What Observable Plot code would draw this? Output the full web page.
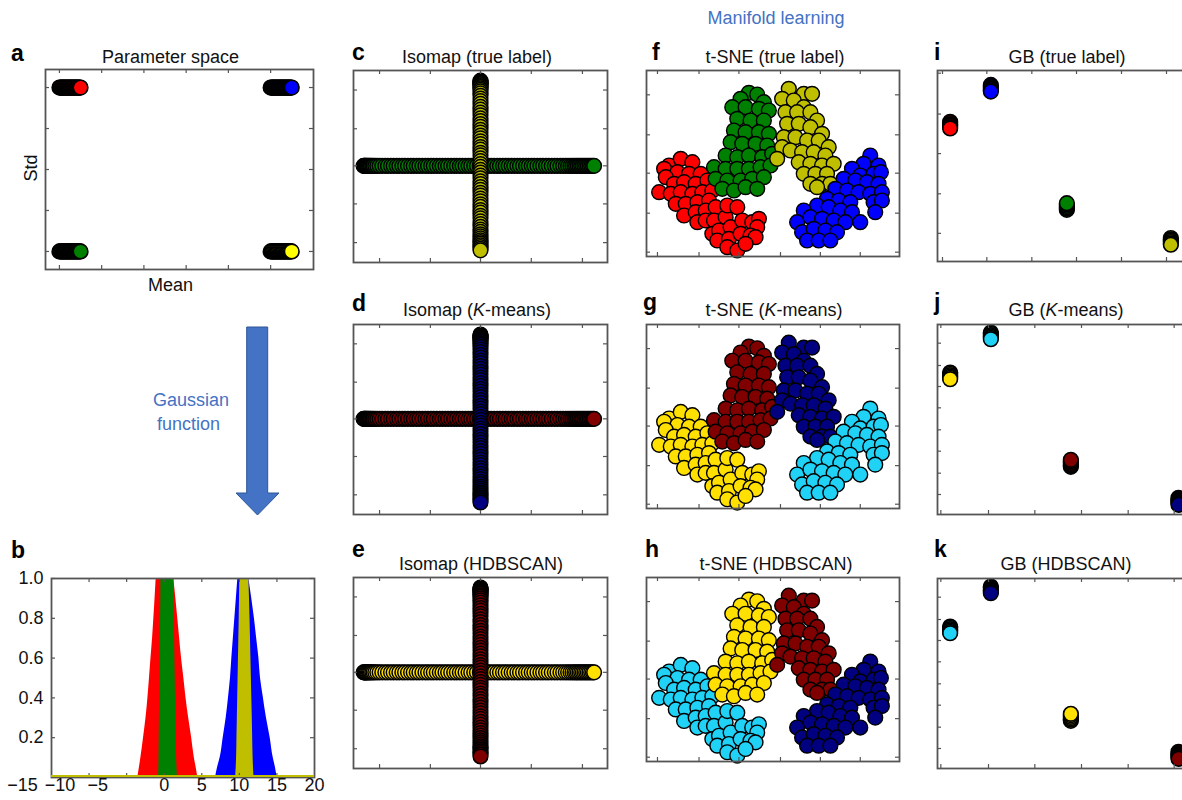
<!DOCTYPE html>
<html><head><meta charset="utf-8">
<script src="https://cdn.jsdelivr.net/npm/d3@7"></script>
<script src="https://cdn.jsdelivr.net/npm/@observablehq/plot@0.6"></script>
<style>
html,body{margin:0;padding:0;background:#fff;}
#fig{position:relative;width:1182px;height:800px;overflow:hidden;background:#fff;font-family:"Liberation Sans",Arial,Helvetica,sans-serif;}
</style></head><body><div id="fig"></div>
<script>
// ================= DATA =================
// Panel a: parameter space (mean, std)
const paramMeansLow  = [0, 0.04, 0.08, 0.12, 0.16, 0.2, 0.24, 0.28, 0.32, 0.36, 0.4, 0.44, 0.48, 0.52, 0.56, 0.6, 0.64, 0.68, 0.72, 0.76, 0.8, 0.84, 0.88, 0.92, 0.96, 1.0];
const paramMeansHigh = [10, 10.04, 10.08, 10.12, 10.16, 10.2, 10.24, 10.28, 10.32, 10.36, 10.4, 10.44, 10.48, 10.52, 10.56, 10.6, 10.64, 10.68, 10.72, 10.76, 10.8, 10.84, 10.88, 10.92, 10.96, 11.0];
const paramStdHigh = 1.2;
const paramStdLow = 0.4;
const paramXTicks = [0, 2, 4, 6, 8, 10];
const paramYTicks = [0.4, 0.6, 0.8, 1.0, 1.2];

// Panel b: Gaussian functions, outline of each coloured band read at levels
const gaussLevels = [0, 0.05, 0.1, 0.2, 0.3, 0.4, 0.5, 0.6, 0.7, 0.8, 0.9, 1.0];
const redLeft    = [-3.51, -3.3, -3.1, -2.75, -2.42, -2.17, -1.96, -1.76, -1.55, -1.38, -1.22, -1.07];
const redRight   = [4.47, 4.25, 4.0, 3.65, 3.25, 2.9, 2.61, 2.3, 2.05, 1.8, 1.55, 1.28];
const greenLeft  = [-0.75, -0.72, -0.7, -0.67, -0.64, -0.61, -0.58, -0.55, -0.52, -0.49, -0.46, -0.45];
const greenRight = [1.75, 1.7, 1.65, 1.6, 1.55, 1.5, 1.46, 1.42, 1.38, 1.34, 1.3, 1.28];
const blueLeft   = [6.83, 7.1, 7.45, 7.85, 8.25, 8.55, 8.82, 9.0, 9.2, 9.4, 9.6, 9.8];
const blueRight  = [15.03, 14.8, 14.5, 14.1, 13.6, 13.2, 12.81, 12.6, 12.3, 12.0, 11.65, 11.26];
const yellowLeft = [9.5, 9.58, 9.63, 9.68, 9.73, 9.78, 9.83, 9.88, 9.93, 9.98, 10.02, 10.06];
const yellowRight= [11.95, 11.88, 11.83, 11.77, 11.72, 11.66, 11.6, 11.54, 11.48, 11.42, 11.35, 11.26];
const gaussXLabels = [-15, -10, -5, 0, 5, 10, 15, 20];
const gaussXTicks = [-10, -5, 0, 5, 10, 15];
const gaussYTicks = [0.2, 0.4, 0.6, 0.8, 1.0];

// Isomap embedding (two bars)
const isoHorizontalY = 28.7;
const isoHorizontalX = [3.0,3.2,3.4,3.6,3.8,4.0,4.3,4.6,4.9,5.2,5.6,6.0,6.5,7.1,7.8,8.6,9.5,10.3,11.2,12.0,12.9,13.7,14.6,15.4,16.3,17.2,18.0,18.9,19.7,20.6,21.5,22.3,23.2,24.0,24.9,25.8,26.6,27.5,28.3,29.2,30.1,30.9,31.8,32.6,33.5,34.4,35.2,36.1,36.9,37.8,38.7,39.5,40.4,41.2,42.1,43.0,43.8,44.7,45.5,46.4,47.3,48.1,49.0,49.8,50.7,51.6,52.4,53.3,54.1,55.0,55.9,56.7,57.6,58.4,59.3,60.2,61.0,61.9,62.7,63.5,64.2,64.9,65.5,66.1,66.6,67.1,67.6,68.1,68.6,69.1,69.6,70.1,70.6,71.1,71.6,72.0];
const isoVerticalX = 38;
const isoVerticalY = [54.0,53.8,53.6,53.4,53.2,53.0,52.7,52.4,52.1,51.7,51.3,50.8,50.2,49.5,48.7,47.9,47.1,46.2,45.4,44.5,43.7,42.8,42.0,41.1,40.3,39.4,38.6,37.7,36.9,36.0,35.2,34.3,33.5,32.6,31.8,30.9,30.1,29.2,28.4,27.5,26.7,25.8,25.0,24.1,23.3,22.4,21.6,20.7,19.9,19.0,18.2,17.3,16.5,15.6,14.8,13.9,13.1,12.2,11.4,10.6,9.8,9.1,8.4,7.8,7.2,6.6,6.1,5.6,5.1,4.6,4.1,3.6];
const isoXTicks = [7.8, 23, 38, 53.2, 68.5];
const isoYTicks = [5.9, 17.4, 28.7, 39.7, 51.2];

// t-SNE embedding (four clusters)
const tsneCluster0 = [[11.5,32.5],[15.0,34.5],[18.5,33.5],[10.0,31.5],[14.0,30.5],[17.5,30.0],[21.0,30.0],[10.5,29.0],[13.0,27.0],[16.0,27.5],[19.5,27.0],[23.0,28.0],[8.5,24.5],[12.0,24.0],[15.0,24.5],[18.5,24.0],[21.5,24.5],[24.5,25.0],[13.5,21.0],[16.5,21.0],[20.0,21.5],[23.5,22.0],[16.0,17.5],[19.5,18.5],[22.5,19.0],[25.5,20.0],[20.0,15.5],[22.5,16.0],[25.0,16.0],[28.5,17.0],[29.0,20.5],[32.0,20.0],[24.5,12.0],[26.5,13.0],[30.0,14.0],[33.5,16.0],[36.5,15.5],[38.5,16.5],[38.0,14.0],[26.0,10.0],[29.5,10.5],[33.0,12.0],[36.0,11.5],[37.5,11.0],[29.0,8.0],[32.0,7.0],[34.5,9.0]];
const tsneCluster1 = [[35.5,54.3],[38.0,53.8],[33.0,52.5],[40.0,51.5],[30.5,50.0],[34.5,50.0],[38.5,49.5],[41.5,49.0],[32.0,46.5],[36.0,46.0],[40.0,46.0],[31.0,43.0],[34.5,42.5],[38.5,42.5],[41.5,42.0],[30.0,39.5],[33.5,39.0],[37.5,39.0],[41.0,38.5],[28.5,35.5],[32.0,35.0],[35.5,35.5],[39.5,35.0],[42.5,36.0],[25.0,32.0],[28.5,31.5],[32.0,31.5],[35.5,31.5],[39.0,32.0],[42.0,32.5],[25.5,28.5],[29.0,28.0],[33.0,28.0],[36.5,28.5],[40.0,29.0],[27.5,25.5],[31.0,25.0],[34.5,26.0],[38.0,25.5]];
const tsneCluster2 = [[47.5,55.5],[52.0,54.0],[54.5,54.0],[45.5,52.5],[49.0,52.0],[52.0,50.0],[46.5,48.5],[50.0,48.5],[54.0,48.5],[56.0,46.0],[47.0,45.0],[50.5,45.0],[54.0,44.0],[57.5,42.0],[46.0,41.0],[49.5,41.0],[53.0,40.0],[56.5,40.0],[59.5,38.0],[45.5,38.0],[44.0,34.5],[48.0,37.0],[51.5,36.5],[55.0,36.5],[58.5,35.5],[50.5,33.5],[54.0,33.0],[57.5,32.5],[61.0,33.0],[52.0,30.0],[55.5,30.0],[59.0,30.0],[54.0,27.0],[57.5,27.0],[60.0,27.0],[56.0,26.0]];
const tsneCluster3 = [[72.0,35.5],[74.5,32.5],[70.0,33.0],[66.5,31.5],[69.0,29.5],[73.0,30.0],[75.2,30.5],[64.0,28.5],[67.5,28.0],[71.0,27.5],[74.5,27.0],[61.5,25.5],[65.0,25.0],[68.5,24.5],[72.0,24.0],[75.5,24.5],[59.0,22.5],[62.5,22.0],[66.0,21.5],[73.0,21.5],[75.5,22.0],[56.0,20.5],[59.5,20.0],[63.0,19.0],[66.5,18.5],[73.5,18.5],[52.0,19.0],[50.0,15.5],[54.0,17.0],[57.5,16.5],[61.0,16.0],[64.5,15.5],[69.0,15.5],[51.5,12.5],[55.0,13.5],[58.5,13.0],[62.0,12.5],[53.0,10.0],[56.5,10.0],[60.0,10.0]];
const tsneXTicks = [8, 20.5, 32.5, 45, 57, 69];
const tsneYTicks = [6.5, 18.2, 30.2, 41.7, 53.7];

// GB embedding: four clumps (labels of clumps in cluster order)
const gbClumpLabels = [0, 3, 1, 2];
const gbTrueX = [3.8, 16.0, 38.8, 70.0];
const gbTrueStackY = [[41.7, 41.3, 40.9, 40.5, 40.1, 39.7], [52.7, 52.3, 51.9, 51.5, 51.1, 50.7], [15.4, 15.8, 16.2, 16.6, 17.0, 17.4], [7.0, 6.6, 6.2, 5.8, 5.4, 5.0]];
const gbClusterX = [3.8, 16.0, 40.0, 72.3];
const gbClusterStackY = [[42.6, 42.2, 41.8, 41.4, 41.0, 40.6], [54.6, 54.2, 53.8, 53.4, 53.0, 52.6], [14.3, 14.7, 15.1, 15.5, 16.0, 16.4], [5.0, 4.6, 4.2, 3.8, 3.4, 2.9]];
const gbTrueXTicks = [1.5, 14.8, 28.3, 41.7, 55.2, 68.7];
const gbTrueYTicks = [8.4, 20.2, 32.2, 44.0, 56.2];
const gbClusterXTicks = [1, 15.3, 29.2, 43.2, 57.2, 71];
const gbClusterYTicks = [6, 12.4, 19, 25.4, 32, 38.4, 44.7, 51.4];

// Label colours (class order: 0,1,2,3)
const trueColors    = ["#ff0000", "#008000", "#bfbf00", "#0000ff"];
const kmeansColors  = ["#ffe000", "#800000", "#000080", "#20d2f6"];
const hdbscanColors = ["#20d2f6", "#ffe000", "#800000", "#000080"];
const paramColors   = ["#ff0000", "#008000", "#0000ff", "#ffff00"];

// ================= DRAWING =================
const fig = document.getElementById("fig");
const FONT = '"Liberation Sans", Arial, Helvetica, sans-serif';
const FRAME = "#555";

function addPanel({left, top, w, h, xDomain, yDomain, xTicks, yTicks, marks = [], after = [], m = 14, tickLen = 4}) {
  const svg = Plot.plot({
    width: w + 2 * m, height: h + 2 * m,
    marginTop: m, marginRight: m, marginBottom: m, marginLeft: m,
    x: {domain: xDomain, axis: null},
    y: {domain: yDomain, axis: null},
    color: {type: "identity"},
    style: {background: "none", overflow: "visible", fontFamily: FONT},
    marks: [
      ...marks,
      Plot.frame({stroke: FRAME, strokeWidth: 1.8}),
      Plot.tickX(xTicks, {x: d => d, stroke: FRAME, strokeWidth: 1.2, insetBottom: h - tickLen}),
      Plot.tickX(xTicks, {x: d => d, stroke: FRAME, strokeWidth: 1.2, insetTop: h - tickLen}),
      Plot.tickY(yTicks, {y: d => d, stroke: FRAME, strokeWidth: 1.2, insetRight: w - tickLen}),
      Plot.tickY(yTicks, {y: d => d, stroke: FRAME, strokeWidth: 1.2, insetLeft: w - tickLen}),
      ...after
    ]
  });
  Object.assign(svg.style, {position: "absolute", left: (left - m) + "px", top: (top - m) + "px",
    overflow: "visible", background: "none", maxWidth: "none"});
  fig.appendChild(svg);
}

const dotOpts = (r, sw = 1.5) => ({x: "x", y: "y", fill: "c", r, stroke: "#000", strokeWidth: sw});

// ---- Panel a ----
const paramPoints = [
  ...paramMeansLow.map(x => ({x, y: paramStdHigh, c: paramColors[0]})),
  ...paramMeansLow.map(x => ({x, y: paramStdLow, c: paramColors[1]})),
  ...paramMeansHigh.map(x => ({x, y: paramStdHigh, c: paramColors[2]})),
  ...paramMeansHigh.map(x => ({x, y: paramStdLow, c: paramColors[3]}))
];
addPanel({left: 45, top: 69, w: 268, h: 200, xDomain: [-0.66, 12.03], yDomain: [0.312, 1.288],
  xTicks: paramXTicks, yTicks: paramYTicks,
  marks: [Plot.dot(paramPoints, dotOpts(7.3, 1.6))]});

// ---- Panel b ----
const band = (L, R) => gaussLevels.map((y, i) => ({y, xl: L[i], xr: R[i]}));
const areaOpts = (fill) => ({y: "y", x1: "xl", x2: "xr", fill, curve: "monotone-y", clip: true});
const fmtX = d => d < 0 ? "\u2212" + Math.abs(d) : String(d);
addPanel({left: 51, top: 578, w: 263, h: 199, xDomain: [-15, 20], yDomain: [0, 1],
  xTicks: gaussXTicks, yTicks: gaussYTicks,
  marks: [
    Plot.areaX(band(redLeft, redRight), areaOpts("#ff0000")),
    Plot.areaX(band(blueLeft, blueRight), areaOpts("#0000ff")),
    Plot.areaX(band(greenLeft, greenRight), areaOpts("#008000")),
    Plot.areaX(band(yellowLeft, yellowRight), areaOpts("#bfbf00"))
  ],
  after: [
    Plot.ruleY([0], {stroke: "#bfbf00", strokeWidth: 5, clip: true}),
    Plot.text(gaussXLabels.filter(d => d < 0), {x: d => d, text: fmtX, frameAnchor: "bottom", dy: 13, dx: -29, fontSize: 18, fill: "#111"}),
    Plot.text(gaussXLabels.filter(d => d >= 0), {x: d => d, text: fmtX, frameAnchor: "bottom", dy: 13, fontSize: 18, fill: "#111"}),
    Plot.text(gaussYTicks, {y: d => d, text: d => d.toFixed(1), frameAnchor: "left", dx: -8, textAnchor: "end", fontSize: 18, fill: "#111"})
  ]});

// ---- Isomap panels ----
const isoPoints = (colors) => [
  ...isoHorizontalX.map(x => ({x, y: isoHorizontalY, c: colors[1]})),
  ...isoVerticalY.map(y => ({x: isoVerticalX, y, c: colors[2]}))
];
[[70, 192, trueColors], [324, 190, kmeansColors], [577, 191, hdbscanColors]].forEach(([top, h, colors]) => {
  addPanel({left: 353, top, w: 254, h, xDomain: [0, 76], yDomain: [0, 57],
    xTicks: isoXTicks, yTicks: isoYTicks,
    marks: [Plot.dot(isoPoints(colors), dotOpts(7.3, 1.5))]});
});

// ---- t-SNE panels ----
const tsneClusters = [tsneCluster0, tsneCluster1, tsneCluster2, tsneCluster3];
const tsnePoints = (colors) => tsneClusters.flatMap((pts, k) => pts.map(([x, y]) => ({x, y, c: colors[k]})));
[[70, 186, trueColors], [324, 184, kmeansColors], [577, 184, hdbscanColors]].forEach(([top, h, colors]) => {
  addPanel({left: 646, top, w: 253, h, xDomain: [4.7, 80.8], yDomain: [5.2, 61],
    xTicks: tsneXTicks, yTicks: tsneYTicks,
    marks: [Plot.dot(tsnePoints(colors), dotOpts(7.4, 1.4))]});
});

// ---- GB panels ----
const gbPoints = (xs, stacks, colors) => stacks.flatMap((ys, k) => ys.map(y => ({x: xs[k], y, c: colors[gbClumpLabels[k]]})));
addPanel({left: 937, top: 70, w: 258, h: 191, xDomain: [0, 77.4], yDomain: [0, 57],
  xTicks: gbTrueXTicks, yTicks: gbTrueYTicks,
  marks: [Plot.dot(gbPoints(gbTrueX, gbTrueStackY, trueColors), dotOpts(7.3, 1.6))]});
[[324, kmeansColors], [578, hdbscanColors]].forEach(([top, colors]) => {
  addPanel({left: 937, top, w: 258, h: 190, xDomain: [0, 77.4], yDomain: [0, 57],
    xTicks: gbClusterXTicks, yTicks: gbClusterYTicks,
    marks: [Plot.dot(gbPoints(gbClusterX, gbClusterStackY, colors), dotOpts(7.3, 1.6))]});
});

// ---- Overlay: titles, letters, arrow ----
const ov = d3.create("svg").attr("width", 1182).attr("height", 800)
  .style("position", "absolute").style("left", "0px").style("top", "0px")
  .style("pointer-events", "none").style("overflow", "visible")
  .attr("font-family", FONT);

// Arrow (Gaussian function)
ov.append("path")
  .attr("d", "M246.7,327 L267.7,327 L267.7,493 L279,493 L257.5,515 L236,493 L246.7,493 Z")
  .attr("fill", "#4472c4").attr("stroke", "#2f5597").attr("stroke-width", 1);

const BLUE = "#4472c4";
const addText = (x, y, str, opts = {}) => {
  const t = ov.append("text").attr("x", x).attr("y", y)
    .attr("font-size", opts.size || 18)
    .attr("text-anchor", opts.anchor || "middle")
    .attr("fill", opts.fill || "#111")
    .attr("font-weight", opts.weight || "normal");
  if (opts.transform) t.attr("transform", opts.transform);
  return t;
};
const simple = (x, y, str, opts) => addText(x, y, str, opts).text(str);
const withItalicK = (x, y, before, after) => {
  const t = addText(x, y, "");
  t.append("tspan").text(before);
  t.append("tspan").attr("font-style", "italic").text("K");
  t.append("tspan").text(after);
};

simple(776, 24, "Manifold learning", {fill: BLUE});
simple(191, 406, "Gaussian", {fill: BLUE});
simple(188.5, 430, "function", {fill: BLUE});

// Titles
simple(170.5, 63, "Parameter space");
simple(477, 63, "Isomap (true label)");
simple(775, 63, "t-SNE (true label)");
simple(1067, 63, "GB (true label)");
withItalicK(477, 315.5, "Isomap (", "-means)");
withItalicK(774, 315.5, "t-SNE (", "-means)");
withItalicK(1066, 315.5, "GB (", "-means)");
simple(481, 570, "Isomap (HDBSCAN)");
simple(776, 570, "t-SNE (HDBSCAN)");
simple(1066, 570, "GB (HDBSCAN)");

// Axis labels of panel a
simple(170.5, 290.5, "Mean");
simple(0, 0, "Std", {transform: "translate(36.5,168) rotate(-90)"});

// Panel letters
const letters = [["a", 11, 61], ["b", 11, 558], ["c", 352, 60], ["d", 352, 311], ["e", 352, 557],
  ["f", 652, 60], ["g", 643, 310], ["h", 645, 557], ["i", 934, 60], ["j", 934, 310], ["k", 934, 557]];
letters.forEach(([s, x, y]) => simple(x, y, s, {size: 23, weight: "bold", anchor: "start", fill: "#000"}));

fig.appendChild(ov.node());
</script></body></html>
